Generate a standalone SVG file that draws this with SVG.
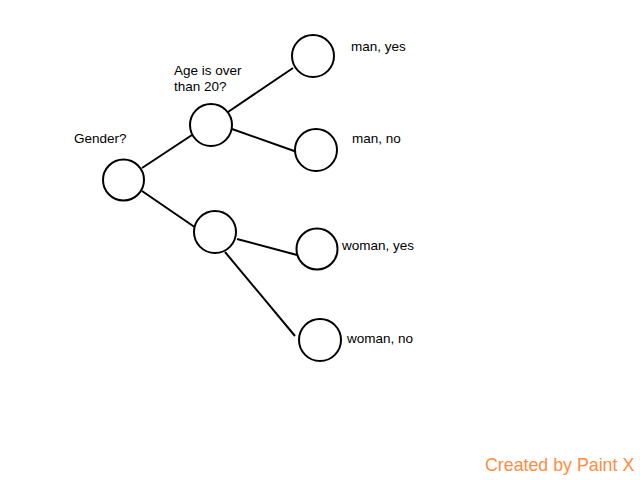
<svg xmlns="http://www.w3.org/2000/svg" width="640" height="480" viewBox="0 0 640 480">
<style>
.n{fill:#fff;stroke:#000;stroke-width:2}
.e{stroke:#000;stroke-width:2;fill:none}
.t{font-family:"Liberation Sans",Arial,sans-serif;font-size:13.5px;fill:#000}
.w{font-family:"Liberation Sans",Arial,sans-serif;font-size:17.8px;fill:#FF8C42}
</style>
<rect width="640" height="480" fill="#fff"/>
<g id="connectors">
<line class="e" x1="142" y1="168" x2="192" y2="135"/>
<line class="e" x1="142" y1="191" x2="196" y2="228"/>
<line class="e" x1="228" y1="112" x2="293" y2="68"/>
<line class="e" x1="232" y1="129" x2="297" y2="152"/>
<line class="e" x1="237" y1="239" x2="297" y2="255"/>
<line class="e" x1="225" y1="252" x2="295" y2="336"/>
</g>
<g id="root"><circle class="n" cx="123.5" cy="180" r="20.5"/><text class="t" x="74" y="143">Gender?</text></g>
<g id="age"><circle class="n" cx="211" cy="125" r="21"/><text class="t" x="174" y="75">Age is over</text><text class="t" x="174" y="91">than 20?</text></g>
<g id="woman"><circle class="n" cx="215" cy="232" r="21"/></g>
<g id="man-yes"><circle class="n" cx="313" cy="56" r="21"/><text class="t" x="351" y="51">man, yes</text></g>
<g id="man-no"><circle class="n" cx="316" cy="150" r="21"/><text class="t" x="352" y="143">man, no</text></g>
<g id="woman-yes"><circle class="n" cx="317" cy="249" r="20.5"/><text class="t" x="342" y="250">woman, yes</text></g>
<g id="woman-no"><circle class="n" cx="320" cy="340" r="21"/><text class="t" x="347" y="343">woman, no</text></g>
<text class="w" x="485" y="471">Created by Paint X</text>
</svg>
